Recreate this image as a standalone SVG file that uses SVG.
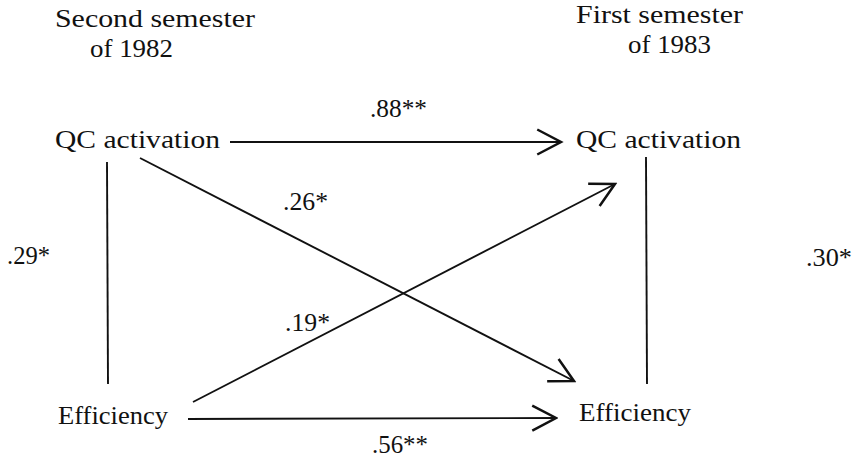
<svg xmlns="http://www.w3.org/2000/svg" width="852" height="459" viewBox="0 0 852 459">
<style>
text{font-family:"Liberation Serif",serif;font-size:26px;fill:#111111}
.c{stroke:#111111;stroke-width:1.9;fill:none}
</style>
<defs>
<marker id="ah" markerUnits="userSpaceOnUse" markerWidth="30" markerHeight="30" viewBox="-22 -12 24 24" refX="0" refY="0" orient="auto">
<path d="M-19,-10 L0,0 L-19,10" fill="none" stroke="#111111" stroke-width="2"/>
</marker>
</defs>
<rect width="852" height="459" fill="#ffffff"/>
<g id="headers">
<text x="55" y="27" textLength="200" lengthAdjust="spacingAndGlyphs">Second semester</text>
<text x="90" y="57" textLength="83" lengthAdjust="spacingAndGlyphs">of 1982</text>
<text x="576" y="23" textLength="167" lengthAdjust="spacingAndGlyphs">First semester</text>
<text x="628" y="53" textLength="83" lengthAdjust="spacingAndGlyphs">of 1983</text>
</g>
<g id="qc1982"><text x="55" y="148" textLength="165" lengthAdjust="spacingAndGlyphs">QC activation</text></g>
<g id="qc1983"><text x="576" y="148" textLength="165" lengthAdjust="spacingAndGlyphs">QC activation</text></g>
<g id="eff1982"><text x="58" y="424" textLength="110" lengthAdjust="spacingAndGlyphs">Efficiency</text></g>
<g id="eff1983"><text x="579" y="421" textLength="112" lengthAdjust="spacingAndGlyphs">Efficiency</text></g>
<g id="connectors">
<line class="c" x1="230" y1="142" x2="561" y2="142" marker-end="url(#ah)"/>
<line class="c" x1="188" y1="419" x2="556" y2="418" marker-end="url(#ah)"/>
<line class="c" x1="140" y1="158" x2="574" y2="381" marker-end="url(#ah)"/>
<line class="c" x1="193" y1="402" x2="615" y2="184" marker-end="url(#ah)"/>
<line class="c" x1="107" y1="162" x2="108" y2="384"/>
<line class="c" x1="646" y1="157" x2="647" y2="384"/>
</g>
<g id="labels">
<text x="370" y="117" textLength="57" lengthAdjust="spacingAndGlyphs">.88**</text>
<text x="372" y="453" textLength="56" lengthAdjust="spacingAndGlyphs">.56**</text>
<text x="283" y="210" textLength="45" lengthAdjust="spacingAndGlyphs">.26*</text>
<text x="285" y="331" textLength="45" lengthAdjust="spacingAndGlyphs">.19*</text>
<text x="7" y="264" textLength="43" lengthAdjust="spacingAndGlyphs">.29*</text>
<text x="806" y="266" textLength="46" lengthAdjust="spacingAndGlyphs">.30*</text>
</g>
</svg>
